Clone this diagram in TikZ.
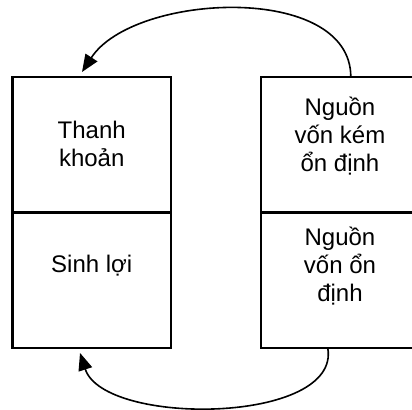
\documentclass[tikz,border=0pt]{standalone}
\usepackage{fontspec}
\setmainfont{Liberation Sans}
\usetikzlibrary{positioning, arrows.meta}

\begin{document}
\begin{tikzpicture}[x=0.75pt, y=0.75pt,
    cell/.style={draw, line width=1.6pt, minimum width=118.9pt, minimum height=101.6pt, inner sep=0pt, outer sep=0pt},
    celltext/.style={align=center, font=\fontsize{18}{21}\selectfont},
    flow/.style={line width=1.2pt, -{Triangle[length=13pt, width=10.5pt]}}]

    \clip (0,0) rectangle (412,410);

    % assets
    \node[cell] (thanhkhoan) at (91.75,265.25) {};
    \node[cell, below=0pt of thanhkhoan] (sinhloi) {};
    % funding
    \node[cell, right=67.5pt of thanhkhoan] (kemondinh) {};
    \node[cell, below=0pt of kemondinh] (ondinh) {};

    \node[celltext] (thanhkhoan-txt) at (91.75,265.75) {Thanh\\khoản};
    \node[celltext] (sinhloi-txt) at (91.75,144) {Sinh lợi};
    \node[celltext] (kemondinh-txt) at (340,273.5) {Nguồn\\vốn kém\\ổn định};
    \node[celltext] (ondinh-txt) at (340,144) {Nguồn\\vốn ổn\\định};

    \coordinate (topin) at ([xshift=-7.3pt, yshift=3.75pt]thanhkhoan.north);
    \coordinate (botin) at ([xshift=-8.8pt, yshift=-3.75pt]sinhloi.south);

    \draw[flow] ([xshift=7.9pt]kemondinh.north) to[out=90, in=57, looseness=0.9] (topin);
    \draw[flow] ([xshift=-9.4pt]ondinh.south) to[out=-80, in=-72, looseness=0.8] (botin);
\end{tikzpicture}
\end{document}
